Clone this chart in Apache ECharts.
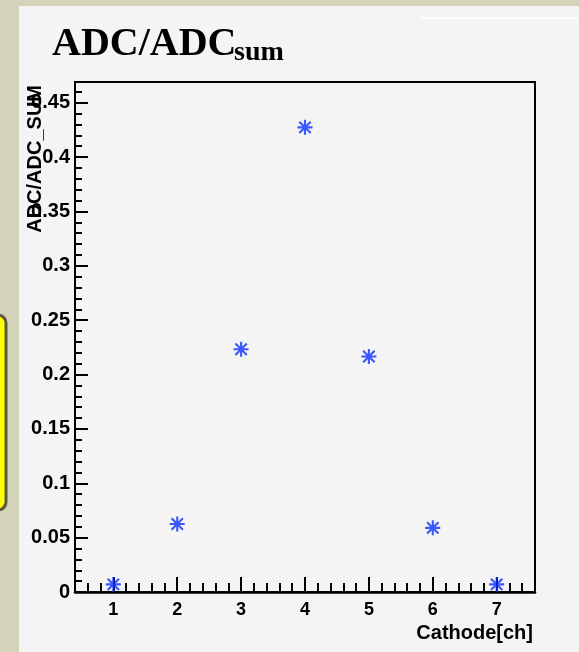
<!DOCTYPE html>
<html><head><meta charset="utf-8">
<script src="https://cdn.jsdelivr.net/npm/echarts@6/dist/echarts.min.js"></script>
<style>html,body{margin:0;padding:0;background:#d6d3bb}#c{width:579px;height:652px}</style>
</head><body><div id="c"></div>
<script>
const CATHODE = [1, 2, 3, 4, 5, 6, 7];
const RATIO = [0.007, 0.0626, 0.2233, 0.4273, 0.2165, 0.059, 0.007];
const X_TICKS = [1, 2, 3, 4, 5, 6, 7];
const Y_TICKS = [0, 0.05, 0.1, 0.15, 0.2, 0.25, 0.3, 0.35, 0.4, 0.45];
const X_RANGE = [0.4, 7.6];
const Y_RANGE = [0, 0.469];
const TITLE = 'ADC/ADC', TITLE_SUB = 'sum';
const X_NAME = 'Cathode[ch]', Y_NAME = 'ADC/ADC_SUM';

const xMinor = [];
for (let k = 3; k <= 37; k++) { if (k % 5) xMinor.push(k / 5); }
const yMinor = [];
for (let i = 1; i <= 46; i++) { if (i % 5) yMinor.push(i / 100); }

const STAR = 'path://M0 43L100 43L100 57L0 57Z M43 0L57 0L57 100L43 100Z ' +
  'M17 7L93 83L83 93L7 17Z M83 7L93 17L17 93L7 83Z';

const lab = { fontFamily: 'Liberation Sans', fontWeight: 'bold', color: '#000' };
const chart = echarts.init(document.getElementById('c'), null, { renderer: 'canvas' });
chart.setOption({
  backgroundColor: '#d6d3bb',
  animation: false,
  grid: { left: 75, right: 44, top: 82, bottom: 60, show: true, borderColor: '#000', borderWidth: 2, backgroundColor: 'transparent' },
  xAxis: [
    { type: 'value', min: X_RANGE[0], max: X_RANGE[1], position: 'bottom',
      axisLine: { onZero: false, lineStyle: { color: '#000', width: 2.5 } },
      axisTick: { inside: true, length: 15, customValues: X_TICKS, lineStyle: { color: '#000', width: 2 } },
      axisLabel: Object.assign({ customValues: X_TICKS, fontSize: 18, margin: 9 }, lab),
      splitLine: { show: false } },
    { type: 'value', min: X_RANGE[0], max: X_RANGE[1], position: 'bottom',
      axisLine: { show: false },
      axisTick: { inside: true, length: 9, customValues: xMinor, lineStyle: { color: '#000', width: 2 } },
      axisLabel: { show: false }, splitLine: { show: false } }
  ],
  yAxis: [
    { type: 'value', min: Y_RANGE[0], max: Y_RANGE[1], position: 'left',
      axisLine: { show: true, onZero: false, lineStyle: { color: '#000', width: 2 } },
      axisTick: { show: true, inside: true, length: 13, customValues: Y_TICKS, lineStyle: { color: '#000', width: 2 } },
      axisLabel: Object.assign({ customValues: Y_TICKS, fontSize: 20, margin: 5 }, lab),
      splitLine: { show: false } },
    { type: 'value', min: Y_RANGE[0], max: Y_RANGE[1], position: 'left',
      axisLine: { show: false },
      axisTick: { show: true, inside: true, length: 7, customValues: yMinor, lineStyle: { color: '#000', width: 2 } },
      axisLabel: { show: false }, splitLine: { show: false } }
  ],
  series: [{
    type: 'scatter', xAxisIndex: 0, yAxisIndex: 0,
    data: CATHODE.map((x, i) => [x, RATIO[i]]),
    symbol: STAR, symbolSize: 15,
    itemStyle: { color: '#0a30ff' }, z: 5
  }],
  graphic: [
    { type: 'rect', z: -10, shape: { x: 19, y: 6, width: 600, height: 700 }, style: { fill: '#f4f4f4' } },
    { type: 'rect', z: -5, shape: { x: -20, y: 315, width: 26, height: 195, r: 8 }, style: { fill: '#ffff00', stroke: '#5b5a3f', lineWidth: 3 } },
    { type: 'line', z: -5, shape: { x1: 420, y1: 18, x2: 579, y2: 18 }, style: { stroke: '#ffffff', lineWidth: 1.5 } },
    { type: 'text', z: 100, x: 52, y: 45, style: { text: TITLE, font: 'bold 40px "Liberation Serif"', fill: '#000', align: 'left', verticalAlign: 'middle' } },
    { type: 'text', z: 100, x: 234, y: 53, style: { text: TITLE_SUB, font: 'bold 28px "Liberation Serif"', fill: '#000', align: 'left', verticalAlign: 'middle' } },
    { type: 'text', z: 100, x: 533, y: 633, style: { text: X_NAME, font: 'bold 20px "Liberation Sans"', fill: '#000', align: 'right', verticalAlign: 'middle' } },
    { type: 'text', z: 100, x: 35, y: 85, rotation: Math.PI / 2, style: { text: Y_NAME, font: 'bold 20px "Liberation Sans"', fill: '#000', align: 'right', verticalAlign: 'middle' } }
  ]
});
</script>
</body></html>
